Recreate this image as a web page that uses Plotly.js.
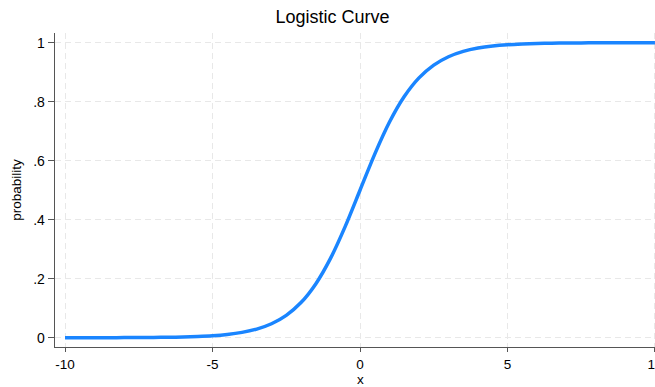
<!DOCTYPE html>
<html>
<head>
<meta charset="utf-8">
<script src="https://cdn.plot.ly/plotly-3.0.1.min.js"></script>
<style>
html,body{margin:0;padding:0;background:#fff;overflow:hidden;width:655px;height:387px;}
#chart{width:665px;height:387px;}
</style>
</head>
<body>
<div id="chart"></div>
<script>
// Values
var xValues = [-10,-9.5,-9,-8.5,-8,-7.5,-7,-6.5,-6,-5.5,-5,-4.5,-4,-3.5,-3,-2.5,-2,-1.5,-1,-0.5,
               0,0.5,1,1.5,2,2.5,3,3.5,4,4.5,5,5.5,6,6.5,7,7.5,8,8.5,9,9.5,10];
var probability = [0.0000,0.0001,0.0001,0.0002,0.0003,0.0006,0.0009,0.0015,0.0025,0.0041,0.0067,0.0110,0.0180,0.0293,0.0474,0.0759,0.1192,0.1824,0.2689,0.3775,
                   0.5000,0.6225,0.7311,0.8176,0.8808,0.9241,0.9526,0.9707,0.9820,0.9890,0.9933,0.9959,0.9975,0.9985,0.9991,0.9994,0.9997,0.9998,0.9999,0.9999,1.0000];
var xTicks = [-10,-5,0,5,10];
var xTickLabels = ['-10','-5','0','5','10'];
var yTicks = [0,0.2,0.4,0.6,0.8,1];
var yTickLabels = ['0','.2','.4','.6','.8','1'];
var xTitle = 'x';

var font = 'Liberation Sans, Arial, Helvetica, sans-serif';

var trace = {
  x: xValues,
  y: probability,
  type: 'scatter',
  mode: 'lines',
  line: {color: '#1a85ff', width: 3.5, shape: 'spline', smoothing: 0.8},
  hoverinfo: 'none'
};

var layout = {
  width: 665,
  height: 387,
  margin: {l: 55, r: 0, t: 33, b: 40, pad: 0},
  paper_bgcolor: '#ffffff',
  plot_bgcolor: '#ffffff',
  showlegend: false,
  title: {
    text: 'Logistic Curve',
    font: {family: font, size: 18, color: '#000'},
    x: 355, xref: 'container', xanchor: 'center',
    y: 20, yref: 'container', yanchor: 'middle'
  },
  annotations: [{
    text: xTitle,
    xref: 'x', x: 0,
    yref: 'paper', y: 0, yanchor: 'bottom', yshift: -41,
    borderpad: 0,
    showarrow: false,
    font: {family: font, size: 13.5, color: '#000'}
  }],
  xaxis: {
    range: [-10.34, 10.34],
    tickvals: xTicks,
    ticktext: xTickLabels,
    ticks: 'outside', ticklen: 4, tickwidth: 1, tickcolor: '#555',
    showline: true, linecolor: '#555', linewidth: 1.3,
    showgrid: true, gridcolor: '#e8e8e8', gridwidth: 1, griddash: '6px,4px',
    zeroline: false,
    tickfont: {family: font, size: 13.5, color: '#000'},
    fixedrange: true
  },
  yaxis: {
    range: [-0.0315, 1.033],
    tickvals: yTicks,
    ticktext: yTickLabels,
    ticks: 'outside', ticklen: 6, tickwidth: 1, tickcolor: '#555',
    showline: true, linecolor: '#555', linewidth: 1.3,
    showgrid: true, gridcolor: '#e8e8e8', gridwidth: 1, griddash: '6px,4px',
    zeroline: false,
    tickfont: {family: font, size: 14, color: '#000'},
    title: {text: 'probability', font: {family: font, size: 13.5, color: '#000'}, standoff: 8},
    fixedrange: true
  }
};

Plotly.newPlot('chart', [trace], layout, {staticPlot: true, displayModeBar: false});
</script>
</body>
</html>
